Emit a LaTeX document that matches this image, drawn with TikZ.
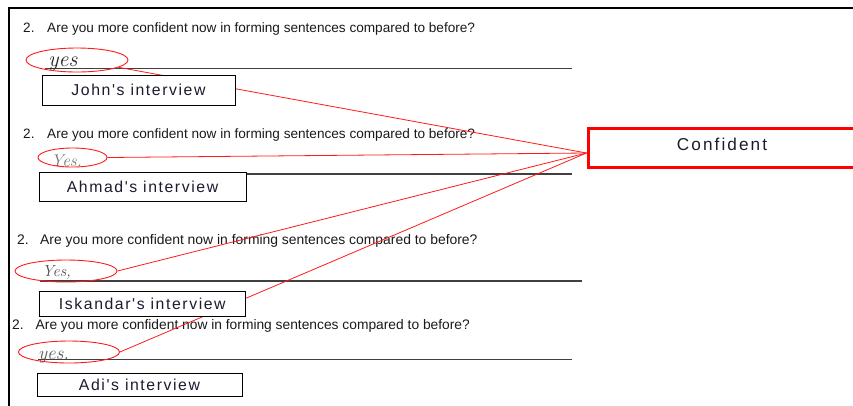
\documentclass[tikz,border=0pt]{standalone}
\usepackage{fontspec}
\usetikzlibrary{shapes.geometric}
\newfontfamily\qfont{Liberation Sans}
\newfontfamily\boxfont{Liberation Sans}[LetterSpace=10]
\newfontfamily\conffont{Liberation Sans}[LetterSpace=12]
\definecolor{qgray}{HTML}{1A1A1A}
\definecolor{btext}{HTML}{1C1C30}
\definecolor{lgray}{HTML}{404040}
\definecolor{myred}{HTML}{FF1A1A}
\begin{document}
\begin{tikzpicture}[x=1pt,y=-1pt,
  question/.style={anchor=base west, inner sep=0pt, text=qgray},
  hand/.style={anchor=base west, inner sep=0pt},
  interview/.style={draw=black, fill=white, line width=0.9pt, inner sep=0pt, text=btext,
    font=\boxfont\fontsize{15.8}{18}\selectfont},
  oval/.style={ellipse, draw=myred, line width=0.9pt, inner sep=0pt},
  link/.style={draw=myred, line width=0.8pt},
  answer/.style={draw=lgray, line width=1.5pt},
  frame/.style={draw=black, line width=2.5pt}]
\useasboundingbox (0,0) rectangle (853,405);
\clip (0,0) rectangle (853,405);
% frame of the scan
\path[frame] (9,410) -- (9,8) -- (860,8);
% answer lines
\path[answer] (45,68.5) -- (572,68.5);
\path[answer] (52,174) -- (572,174);
\path[answer] (40,281) -- (582,281);
\path[answer] (38,359.5) -- (572,359.5);
% questions
\node[question, font=\qfont\fontsize{13.6}{16}\selectfont] (n1) at (23,32.3) {2.};
\node[question, font=\qfont\fontsize{13.6}{16}\selectfont] (q1) at (47,32.3) {Are you more confident now in forming sentences compared to before?};
\node[question, font=\qfont\fontsize{13.6}{16}\selectfont] (n2) at (23,138.5) {2.};
\node[question, font=\qfont\fontsize{13.6}{16}\selectfont] (q2) at (47,138.5) {Are you more confident now in forming sentences compared to before?};
\node[question, font=\qfont\fontsize{13.9}{16}\selectfont] (n3) at (17,244.5) {2.};
\node[question, font=\qfont\fontsize{13.9}{16}\selectfont] (q3) at (40,244.5) {Are you more confident now in forming sentences compared to before?};
\node[question, font=\qfont\fontsize{13.8}{16}\selectfont] (n4) at (12,329.5) {2.};
\node[question, font=\qfont\fontsize{13.8}{16}\selectfont] (q4) at (35.5,329.5) {Are you more confident now in forming sentences compared to before?};
% handwritten answers
\node[hand, text=black!85, font=\itshape\fontsize{22}{22}\selectfont] (h1) at (48,66) {yes};
\node[hand, text=black!55, font=\itshape\fontsize{17}{17}\selectfont] (h2) at (51,166) {Yes.};
\node[hand, text=black!70, font=\itshape\fontsize{16}{16}\selectfont] (h3) at (42,276) {Yes,};
\node[hand, text=black!65, font=\itshape\fontsize{19}{19}\selectfont] (h4) at (38,359) {yes.};
% circled answers
\node[oval, minimum width=102pt, minimum height=24pt] (e1) at (77,60) {};
\node[oval, minimum width=69pt, minimum height=19pt] (e2) at (72.5,157.5) {};
\node[oval, minimum width=102pt, minimum height=22pt] (e3) at (66,271) {};
\node[oval, minimum width=101pt, minimum height=22pt] (e4) at (69,352) {};
% category box
\node[draw=red, line width=3pt, minimum width=268pt, minimum height=39pt, inner sep=0pt,
  text depth=8pt, text=btext, font=\conffont\fontsize{17.2}{19}\selectfont] (c) at (722,148) {Confident};
\coordinate (hub) at ([yshift=-5pt]c.west);
% connectors
\draw[link] (e1.-10) -- (hub);
\draw[link] (e2.east) -- (hub);
\draw[link] (e3.east) -- (hub);
\draw[link] (e4.east) -- (hub);
% interview labels
\node[interview, minimum width=193pt, minimum height=30pt] (john) at (138.5,90) {John's interview};
\node[interview, minimum width=207pt, minimum height=29pt] (ahmad) at (142.5,186.5) {Ahmad's interview};
\node[interview, minimum width=205.5pt, minimum height=25pt] (iskandar) at (142.3,303.5) {Iskandar's interview};
\node[interview, minimum width=205pt, minimum height=23pt] (adi) at (139.5,384.5) {Adi's interview};
\end{tikzpicture}
\end{document}
